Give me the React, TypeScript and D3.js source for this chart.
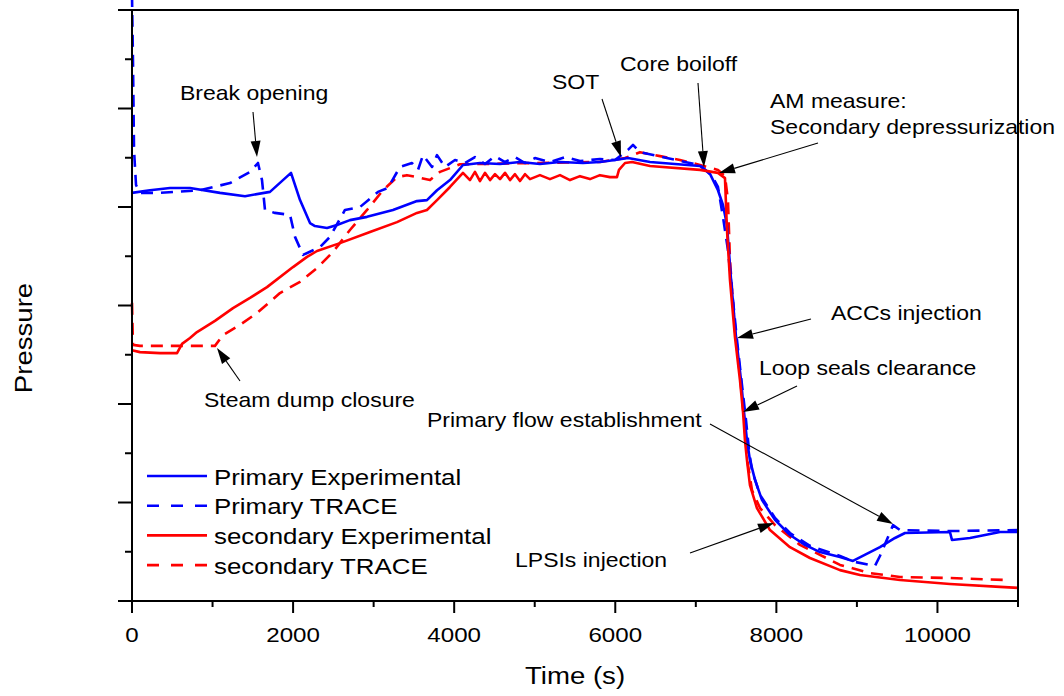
import React from 'react';
import * as d3 from 'd3';

type P = [number, number];

// Time (s) vs pressure (arbitrary, 0-18)
const xMajorTicks = [0, 2000, 4000, 6000, 8000, 10000];
const xMinorTicks = [1000, 3000, 5000, 7000, 9000, 11000];
const yMajorTicks = [0, 3, 6, 9, 12, 15, 18];
const yMinorTicks = [1.5, 4.5, 7.5, 10.5, 13.5, 16.5];

const primaryExperimental: P[] = [
  [0, 12.43], [223, 12.51], [472, 12.58], [720, 12.58], [1093, 12.43], [1403, 12.33], [1713, 12.46],
  [1974, 13.04], [2086, 12.21], [2210, 11.51], [2272, 11.42], [2421, 11.36], [2545, 11.45], [2706, 11.6],
  [2918, 11.7], [3240, 11.91], [3538, 12.18], [3662, 12.21], [3787, 12.51], [3948, 12.82], [4109, 13.28],
  [4320, 13.34], [4569, 13.31], [4817, 13.37], [5065, 13.31], [5314, 13.37], [5599, 13.34], [5810, 13.37],
  [5996, 13.43], [6158, 13.49], [6431, 13.37], [7052, 13.25], [7176, 13.01], [7275, 12.51], [7337, 12.06],
  [7387, 11.45], [7437, 9.78], [7499, 8.04], [7561, 6.73], [7598, 5.76], [7635, 4.9], [7672, 4.29],
  [7735, 3.69], [7821, 3.08], [7983, 2.47], [8169, 2.01], [8355, 1.71], [8542, 1.49], [8790, 1.34],
  [8951, 1.22], [9286, 1.64], [9473, 1.92], [9597, 2.07], [10155, 2.1], [10180, 1.86], [10404, 1.92],
  [10652, 2.04], [10776, 2.1], [11000, 2.1],
];

const primaryTrace: P[] = [
  [0, 18.46], [12, 16.48], [25, 13.74], [50, 12.67], [99, 12.43], [348, 12.43], [844, 12.51], [1217, 12.73],
  [1465, 13.07], [1564, 13.34], [1614, 12.82], [1651, 11.91], [1775, 11.82], [1962, 11.76], [2024, 11.09],
  [2123, 10.54], [2334, 10.78], [2458, 11.09], [2644, 11.91], [2831, 12.0], [3054, 12.46], [3178, 12.58],
  [3327, 13.22], [3476, 13.34], [3551, 13.13], [3613, 13.58], [3725, 13.22], [3787, 13.58], [3886, 13.22],
  [4010, 13.43], [4134, 13.34], [4258, 13.52], [4382, 13.31], [4507, 13.55], [4631, 13.37], [4755, 13.52],
  [4879, 13.34], [5003, 13.49], [5189, 13.37], [5376, 13.52], [5562, 13.4], [5810, 13.46], [5996, 13.43],
  [6158, 13.74], [6220, 13.89], [6307, 13.67], [6865, 13.37], [7052, 13.28], [7201, 12.94], [7275, 12.61],
  [7337, 11.7], [7399, 10.69], [7461, 9.17], [7511, 7.95], [7573, 6.58], [7623, 5.51], [7660, 4.6],
  [7697, 3.99], [7797, 3.23], [7983, 2.53], [8169, 2.07], [8417, 1.68], [8790, 1.37], [8976, 1.19],
  [9224, 1.07], [9286, 1.37], [9448, 2.31], [9535, 2.16], [10155, 2.13], [11000, 2.16],
];

const secondaryExperimental: P[] = [
  [0, 7.64], [99, 7.58], [348, 7.55], [559, 7.55], [621, 7.83], [720, 8.01], [807, 8.19], [1030, 8.53],
  [1254, 8.92], [1465, 9.23], [1676, 9.56], [1999, 10.17], [2173, 10.48], [2297, 10.66], [2582, 10.9],
  [2955, 11.24], [3290, 11.54], [3538, 11.82], [3662, 11.91], [3787, 12.21], [3948, 12.61], [4109, 13.04],
  [4196, 12.82], [4258, 13.07], [4320, 12.79], [4382, 13.04], [4445, 12.82], [4507, 13.0], [4569, 12.85],
  [4631, 13.04], [4693, 12.82], [4755, 13.0], [4817, 12.79], [4879, 13.0], [4941, 12.85], [5065, 12.97],
  [5189, 12.85], [5314, 12.97], [5438, 12.82], [5562, 12.94], [5686, 12.85], [5810, 12.97], [5934, 12.91],
  [6021, 12.91], [6046, 13.13], [6121, 13.34], [6208, 13.37], [6431, 13.25], [7052, 13.13], [7275, 13.04],
  [7362, 12.88], [7387, 11.3], [7424, 9.78], [7486, 8.04], [7548, 6.73], [7586, 5.76], [7610, 4.9],
  [7635, 4.29], [7672, 3.53], [7759, 2.83], [7921, 2.16], [8169, 1.64], [8417, 1.31], [8790, 0.94],
  [9038, 0.79], [9535, 0.64], [10155, 0.52], [10776, 0.43], [11000, 0.4],
];

const secondaryTrace: P[] = [
  [0, 9.08], [12, 7.8], [99, 7.77], [1030, 7.77], [1130, 8.1], [1341, 8.41], [1552, 8.77], [1837, 9.38],
  [2086, 9.72], [2297, 10.14], [2495, 10.63], [2706, 11.3], [2918, 11.91], [3116, 12.51], [3290, 12.91],
  [3414, 12.97], [3538, 12.91], [3700, 12.82], [3824, 13.07], [4072, 13.3], [4569, 13.32], [5189, 13.35],
  [5810, 13.37], [6121, 13.49], [6307, 13.67], [6555, 13.55], [6803, 13.43], [7052, 13.28], [7275, 13.13],
  [7362, 12.94], [7399, 12.21], [7424, 10.39], [7486, 8.25], [7548, 6.88], [7610, 5.21], [7648, 4.14],
  [7697, 3.38], [7797, 2.83], [7983, 2.31], [8293, 1.71], [8790, 1.1], [9162, 0.85], [9535, 0.73],
  [10155, 0.7], [10838, 0.64],
];

const seriesNames = ['Primary Experimental', 'Primary TRACE', 'secondary Experimental', 'secondary TRACE'];
const seriesColors = ['#0000ff', '#0000ff', '#ff0000', '#ff0000'];
const seriesDashed = [false, true, false, true];
const seriesData = [primaryExperimental, primaryTrace, secondaryExperimental, secondaryTrace];
const drawOrder = [3, 1, 0, 2];

// annotation layout (pixels)
const annotations = [
  { lines: ['Break opening'], x: 180, y: 100, arrow: [253, 112, 257, 157] },
  { lines: ['Steam dump closure'], x: 204, y: 407, arrow: [240, 381, 217, 348] },
  { lines: ['SOT'], x: 552, y: 89, arrow: [602, 99, 621, 157] },
  { lines: ['Core boiloff'], x: 620, y: 71, arrow: [698, 83, 704, 167] },
  { lines: ['AM measure:', 'Secondary depressurization'], x: 770, y: 108, arrow: [818, 143, 719, 173] },
  { lines: ['ACCs injection'], x: 831, y: 320, arrow: [811, 319, 737, 338] },
  { lines: ['Loop seals clearance'], x: 759, y: 375, arrow: [797, 386, 743, 412] },
  { lines: ['Primary flow establishment'], x: 427, y: 427, arrow: [710, 424, 893, 524] },
  { lines: ['LPSIs injection'], x: 515, y: 567, arrow: [690, 553, 774, 523] },
];

const FONT = "'Liberation Sans', Arial, Helvetica, sans-serif";
const SX = 1.15;

function T({ x, y, size, anchor = 'start', rotate = 0, children }: any) {
  return (
    <text
      transform={`translate(${x},${y}) rotate(${rotate}) scale(${SX},1)`}
      fontSize={size}
      textAnchor={anchor}
      fontFamily={FONT}
      fill="#000"
    >
      {children}
    </text>
  );
}

function Arrow({ x1, y1, x2, y2 }: any) {
  const a = Math.atan2(y2 - y1, x2 - x1);
  const L = 16, w = 5;
  const bx = x2 - L * Math.cos(a);
  const by = y2 - L * Math.sin(a);
  const lx = bx + w * Math.sin(a), ly = by - w * Math.cos(a);
  const rx = bx - w * Math.sin(a), ry = by + w * Math.cos(a);
  return (
    <g>
      <line x1={x1} y1={y1} x2={bx} y2={by} stroke="#000" strokeWidth={1.1} />
      <polygon points={`${x2},${y2} ${lx},${ly} ${rx},${ry}`} fill="#000" />
    </g>
  );
}

export default function App() {
  const left = 132, right = 1018, top = 10, bottom = 601;
  const x = d3.scaleLinear().domain([0, 11000]).range([left, right]);
  const y = d3.scaleLinear().domain([0, 18]).range([bottom, top]);
  const line = d3.line<P>().x((d) => x(d[0])).y((d) => y(d[1])).curve(d3.curveLinear);

  const legendX0 = 147, legendX1 = 207, legendY0 = 476, legendStep = 29.7;

  return (
    <svg
      width={1064}
      height={696}
      style={{ position: 'absolute', left: 0, top: 0, background: '#fff' }}
    >
      <rect x={0} y={0} width={1064} height={696} fill="#fff" />
      {/* series */}
      {drawOrder.map((i) => (
        <path
          key={i}
          d={line(seriesData[i]) || ''}
          fill="none"
          stroke={seriesColors[i]}
          strokeWidth={2.6}
          strokeDasharray={seriesDashed[i] ? '12,8' : undefined}
          strokeLinejoin="round"
        />
      ))}

      {/* frame */}
      <rect x={left} y={top} width={right - left} height={bottom - top} fill="none" stroke="#000" strokeWidth={2} />

      {/* y ticks */}
      {yMajorTicks.map((v) => (
        <line key={'ym' + v} x1={left - 14} x2={left} y1={y(v)} y2={y(v)} stroke="#000" strokeWidth={2} />
      ))}
      {yMinorTicks.map((v) => (
        <line key={'yn' + v} x1={left - 7} x2={left} y1={y(v)} y2={y(v)} stroke="#000" strokeWidth={2} />
      ))}
      {/* x ticks */}
      {xMajorTicks.map((v) => (
        <g key={'xm' + v}>
          <line x1={x(v)} x2={x(v)} y1={bottom} y2={bottom + 12} stroke="#000" strokeWidth={2} />
          <T x={x(v)} y={642} size={21} anchor="middle">{String(v)}</T>
        </g>
      ))}
      {xMinorTicks.map((v) => (
        <line key={'xn' + v} x1={x(v)} x2={x(v)} y1={bottom} y2={bottom + 6} stroke="#000" strokeWidth={2} />
      ))}

      {/* axis titles */}
      <T x={(left + right) / 2} y={684} size={24} anchor="middle">Time (s)</T>
      <T x={32} y={338} size={24} anchor="middle" rotate={-90}>Pressure</T>

      {/* legend */}
      {seriesNames.map((name, i) => {
        const ly = legendY0 + i * legendStep;
        return (
          <g key={name}>
            <line
              x1={legendX0}
              x2={legendX1}
              y1={ly}
              y2={ly}
              stroke={seriesColors[i]}
              strokeWidth={2.6}
              strokeDasharray={seriesDashed[i] ? '12,12' : undefined}
            />
            <T x={214} y={ly + 8.5} size={22.5}>{name}</T>
          </g>
        );
      })}

      {/* annotations */}
      {annotations.map((a, i) => (
        <g key={'an' + i}>
          {a.lines.map((s, j) => (
            <T key={j} x={a.x} y={a.y + j * 26} size={20}>{s}</T>
          ))}
          <Arrow x1={a.arrow[0]} y1={a.arrow[1]} x2={a.arrow[2]} y2={a.arrow[3]} />
        </g>
      ))}
    </svg>
  );
}
